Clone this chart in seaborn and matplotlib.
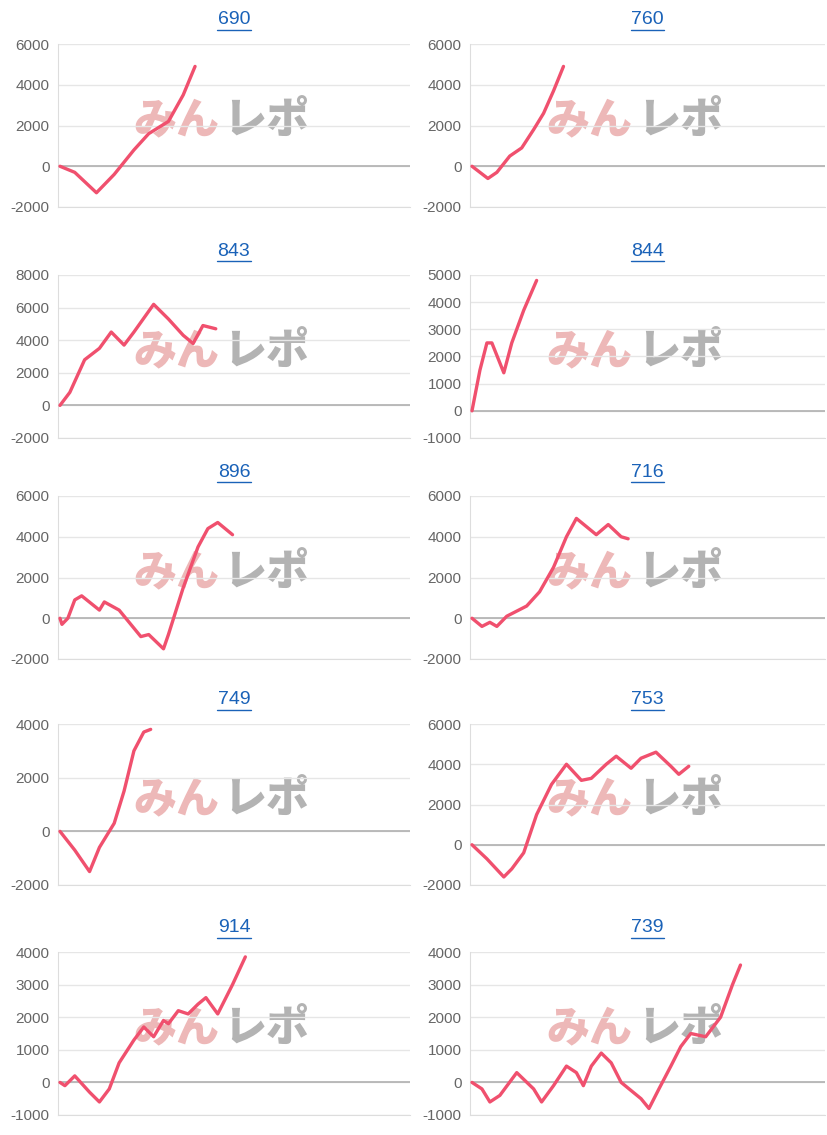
import matplotlib
matplotlib.use("Agg")
import matplotlib.pyplot as plt
import seaborn as sns
import pandas as pd

titles = ["690", "760", "843", "844", "896", "716", "749", "753", "914", "739"]
x690 = [0, 15, 37, 55, 75, 90, 110, 125, 137]
y690 = [0, -300, -1300, -400, 800, 1600, 2200, 3500, 4900]
x760 = [0, 16, 25, 38, 50, 62, 72, 82, 92]
y760 = [0, -600, -300, 500, 900, 1800, 2600, 3700, 4900]
x843 = [0, 10, 25, 40, 52, 65, 75, 95, 110, 125, 135, 145, 158]
y843 = [0, 800, 2800, 3500, 4500, 3700, 4500, 6200, 5300, 4300, 3800, 4900, 4700]
x844 = [0, 8, 15, 20, 32, 40, 52, 65]
y844 = [0, 1500, 2500, 2500, 1400, 2500, 3700, 4800]
x896 = [0, 2, 8, 15, 22, 40, 45, 60, 82, 90, 105, 110, 125, 140, 150, 160, 175]
y896 = [0, -300, 0, 900, 1100, 400, 800, 400, -900, -800, -1500, -800, 1500, 3500, 4400, 4700, 4100]
x716 = [0, 10, 18, 25, 35, 55, 68, 82, 95, 105, 115, 125, 137, 150, 157]
y716 = [0, -400, -200, -400, 100, 600, 1300, 2500, 4000, 4900, 4500, 4100, 4600, 4000, 3900]
x749 = [0, 15, 30, 40, 55, 65, 75, 85, 92]
y749 = [0, -700, -1500, -600, 300, 1500, 3000, 3700, 3800]
x753 = [0, 15, 32, 40, 52, 65, 80, 95, 110, 120, 135, 145, 160, 170, 185, 200, 208, 218]
y753 = [0, -700, -1600, -1200, -400, 1500, 3000, 4000, 3200, 3300, 4000, 4400, 3800, 4300, 4600, 3900, 3500, 3900]
x914 = [0, 5, 15, 30, 40, 50, 60, 75, 85, 95, 105, 110, 120, 130, 140, 148, 160, 175, 188]
y914 = [0, -100, 200, -300, -600, -200, 600, 1300, 1700, 1400, 1900, 1800, 2200, 2100, 2400, 2600, 2100, 3000, 3850]
x739 = [0, 10, 18, 28, 45, 62, 70, 82, 95, 105, 112, 120, 130, 140, 150, 170, 178, 188, 200, 210, 220, 235, 250, 262, 270]
y739 = [0, -200, -600, -400, 300, -200, -600, -100, 500, 300, -100, 500, 900, 600, 0, -500, -800, -200, 500, 1100, 1500, 1400, 2000, 3000, 3600]

series = [(x690, y690), (x760, y760), (x843, y843), (x844, y844), (x896, y896),
          (x716, y716), (x749, y749), (x753, y753), (x914, y914), (x739, y739)]
ylims = [(-2000, 6000, 2000), (-2000, 6000, 2000), (-2000, 8000, 2000), (-1000, 5000, 1000),
         (-2000, 6000, 2000), (-2000, 6000, 2000), (-2000, 4000, 2000), (-2000, 6000, 2000),
         (-1000, 4000, 1000), (-1000, 4000, 1000)]

sns.set_style("white")
plt.rcParams['font.family'] = ['Noto Sans CJK JP', 'DejaVu Sans']
plt.rcParams['axes.unicode_minus'] = False
W, H = 828, 1135
fig = plt.figure(figsize=(W / 100, H / 100), dpi=100)
rows = [(44, 207), (275, 438), (496, 659), (724, 885), (952, 1115)]
cols = [(58, 410), (470, 825)]
for i, (t, (xs, ys)) in enumerate(zip(titles, series)):
    r, c = divmod(i, 2)
    (y0, y1), (x0, x1) = rows[r], cols[c]
    ax = fig.add_axes([x0 / W, 1 - y1 / H, (x1 - x0) / W, (y1 - y0) / H])
    lo, hi, st = ylims[i]
    ax.set_ylim(lo, hi)
    ax.set_xlim(-2, 355)
    ax.set_yticks(range(lo, hi + 1, st))
    ax.grid(axis='y', color='#e6e6e6', lw=1)
    ax.axhline(0, color='#b0b0b0', lw=1.2, zorder=1)
    for s in ['top', 'right']:
        ax.spines[s].set_visible(False)
    for s in ['left', 'bottom']:
        ax.spines[s].set_color('#dddddd')
    ax.set_xticks([])
    ax.tick_params(axis='y', colors='#666666', labelsize=11, length=0, pad=6)
    for lab in ax.get_yticklabels():
        lab.set_fontfamily('Liberation Sans')
    ax.text(0.215, 0.53, "みん", transform=ax.transAxes, fontsize=31, fontweight='black',
            style='italic', color='#e8a0a0', alpha=0.75, ha='left', va='center', zorder=0,
            fontfamily='Noto Sans CJK JP')
    ax.text(0.47, 0.53, "レポ", transform=ax.transAxes, fontsize=31, fontweight='black',
            style='italic', color='#a0a0a0', alpha=0.8, ha='left', va='center', zorder=0,
            fontfamily='Noto Sans CJK JP')
    df = pd.DataFrame({"x": xs, "y": ys})
    sns.lineplot(data=df, x="x", y="y", ax=ax, color='#f0506e', lw=2.4, zorder=3)
    ax.set_xlabel(""); ax.set_ylabel("")
    fig.text((x0 + x1) / 2 / W, 1 - (y0 - 24) / H, t, color='#1a62b8', fontsize=14,
             ha='center', va='center', fontfamily='Liberation Sans')
    fig.add_artist(plt.Line2D([((x0 + x1) / 2 - 17) / W, ((x0 + x1) / 2 + 17) / W],
                              [1 - (y0 - 14) / H] * 2, color='#1a62b8', lw=1))
fig.savefig("out.png", dpi=100)
